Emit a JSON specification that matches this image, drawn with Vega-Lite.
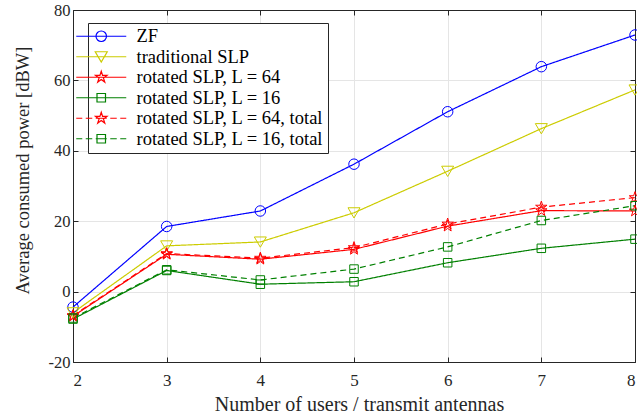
{
  "$schema": "https://vega.github.io/schema/vega-lite/v6.json",
  "width": 562,
  "height": 352,
  "autosize": {"type": "none"},
  "padding": {"left": 73, "top": 10, "right": 2, "bottom": 54},
  "background": "white",
  "config": {"view": {"stroke": null}, "font": "Liberation Serif", "axis": {"labelFont": "Liberation Serif", "titleFont": "Liberation Serif"}},
  "data": {"values": [
    {"x": 2, "series": "ZF", "value": -4.4},
    {"x": 3, "series": "ZF", "value": 18.5},
    {"x": 4, "series": "ZF", "value": 22.9},
    {"x": 5, "series": "ZF", "value": 36.2},
    {"x": 6, "series": "ZF", "value": 51.1},
    {"x": 7, "series": "ZF", "value": 63.9},
    {"x": 8, "series": "ZF", "value": 72.9},
    {"x": 2, "series": "traditional SLP", "value": -6.0},
    {"x": 3, "series": "traditional SLP", "value": 13.0},
    {"x": 4, "series": "traditional SLP", "value": 14.1},
    {"x": 5, "series": "traditional SLP", "value": 22.4},
    {"x": 6, "series": "traditional SLP", "value": 34.2},
    {"x": 7, "series": "traditional SLP", "value": 46.3},
    {"x": 8, "series": "traditional SLP", "value": 57.3},
    {"x": 2, "series": "rotated SLP, L = 64", "value": -7.0},
    {"x": 3, "series": "rotated SLP, L = 64", "value": 10.6},
    {"x": 4, "series": "rotated SLP, L = 64", "value": 9.2},
    {"x": 5, "series": "rotated SLP, L = 64", "value": 12.0},
    {"x": 6, "series": "rotated SLP, L = 64", "value": 18.6},
    {"x": 7, "series": "rotated SLP, L = 64", "value": 23.0},
    {"x": 8, "series": "rotated SLP, L = 64", "value": 22.9},
    {"x": 2, "series": "rotated SLP, L = 16", "value": -7.8},
    {"x": 3, "series": "rotated SLP, L = 16", "value": 6.0},
    {"x": 4, "series": "rotated SLP, L = 16", "value": 2.1},
    {"x": 5, "series": "rotated SLP, L = 16", "value": 2.8},
    {"x": 6, "series": "rotated SLP, L = 16", "value": 8.2},
    {"x": 7, "series": "rotated SLP, L = 16", "value": 12.3},
    {"x": 8, "series": "rotated SLP, L = 16", "value": 14.9},
    {"x": 2, "series": "rotated SLP, L = 64, total", "value": -6.8},
    {"x": 3, "series": "rotated SLP, L = 64, total", "value": 10.8},
    {"x": 4, "series": "rotated SLP, L = 64, total", "value": 9.5},
    {"x": 5, "series": "rotated SLP, L = 64, total", "value": 12.5},
    {"x": 6, "series": "rotated SLP, L = 64, total", "value": 19.2},
    {"x": 7, "series": "rotated SLP, L = 64, total", "value": 24.0},
    {"x": 8, "series": "rotated SLP, L = 64, total", "value": 26.7},
    {"x": 2, "series": "rotated SLP, L = 16, total", "value": -7.5},
    {"x": 3, "series": "rotated SLP, L = 16, total", "value": 6.2},
    {"x": 4, "series": "rotated SLP, L = 16, total", "value": 3.3},
    {"x": 5, "series": "rotated SLP, L = 16, total", "value": 6.4},
    {"x": 6, "series": "rotated SLP, L = 16, total", "value": 12.7},
    {"x": 7, "series": "rotated SLP, L = 16, total", "value": 20.2},
    {"x": 8, "series": "rotated SLP, L = 16, total", "value": 24.4}
  ]},
  "layer": [
    {
      "mark": {"type": "line", "strokeWidth": 1.2},
      "encoding": {
        "x": {"field": "x", "type": "quantitative",
          "scale": {"domain": [2, 8], "nice": false, "zero": false},
          "axis": {"orient": "bottom", "values": [2, 3, 4, 5, 6, 7, 8], "format": "d",
            "grid": true, "gridColor": "#e5e5e5", "gridWidth": 1,
            "domainColor": "#262626", "domainWidth": 1, "tickColor": "#262626", "tickSize": -5, "tickWidth": 1,
            "labelFont": "Liberation Serif", "labelFontSize": 17, "labelColor": "#262626", "labelPadding": 15,
            "title": "Number of users / transmit antennas", "titleFont": "Liberation Serif", "titleFontSize": 20,
            "titleFontWeight": "normal", "titleColor": "#262626", "titleX": 286, "titleY": 48,
            "titleBaseline": "alphabetic", "titleAlign": "center"}},
        "y": {"field": "value", "type": "quantitative",
          "scale": {"domain": [-20, 80], "nice": false, "zero": false},
          "axis": {"orient": "left", "values": [-20, 0, 20, 40, 60, 80], "labelExpr": "datum.value + ''",
            "grid": true, "gridColor": "#e5e5e5", "gridWidth": 1,
            "domainColor": "#262626", "domainWidth": 1, "tickColor": "#262626", "tickSize": -5, "tickWidth": 1,
            "labelFont": "Liberation Serif", "labelFontSize": 16.5, "labelColor": "#262626", "labelPadding": 8,
            "title": "Average consumed power [dBW]", "titleFont": "Liberation Serif", "titleFontSize": 18.5,
            "titleFontWeight": "normal", "titleColor": "#262626", "titleX": -45, "titleY": 160,
            "titleBaseline": "alphabetic", "titleAlign": "center", "titleAngle": 270}},
        "color": {"field": "series", "type": "nominal",
          "scale": {"domain": ["ZF", "traditional SLP", "rotated SLP, L = 64", "rotated SLP, L = 16", "rotated SLP, L = 64, total", "rotated SLP, L = 16, total"],
            "range": ["#0000ff", "#cccc00", "#ff0000", "#008000", "#ff0000", "#008000"]},
          "legend": null},
        "strokeDash": {"field": "series", "type": "nominal",
          "scale": {"domain": ["ZF", "traditional SLP", "rotated SLP, L = 64", "rotated SLP, L = 16", "rotated SLP, L = 64, total", "rotated SLP, L = 16, total"],
            "range": [[1, 0], [1, 0], [1, 0], [1, 0], [6, 4], [6, 4]]},
          "legend": null}
      }
    },
    {
      "mark": {"type": "point", "filled": false, "size": 100, "strokeWidth": 1, "opacity": 1},
      "encoding": {
        "x": {"field": "x", "type": "quantitative",
          "axis": {"orient": "top", "values": [2, 3, 4, 5, 6, 7, 8], "labels": false, "title": null, "grid": false,
            "domainColor": "#262626", "domainWidth": 1, "tickColor": "#262626", "tickSize": -5, "tickWidth": 1}},
        "y": {"field": "value", "type": "quantitative",
          "axis": {"orient": "right", "values": [-20, 0, 20, 40, 60, 80], "labels": false, "title": null, "grid": false,
            "domainColor": "#262626", "domainWidth": 1, "tickColor": "#262626", "tickSize": -5, "tickWidth": 1}},
        "color": {"field": "series", "type": "nominal", "legend": null},
        "shape": {"field": "series", "type": "nominal",
          "scale": {"domain": ["ZF", "traditional SLP", "rotated SLP, L = 64", "rotated SLP, L = 16", "rotated SLP, L = 64, total", "rotated SLP, L = 16, total"],
            "range": [
              "M1.05,0A1.05 1.05 0 1 1 -1.05,0A1.05 1.05 0 1 1 1.05,0Z",
              "M-1.2,-1L1.2,-1L0,1.05Z",
              "M0,-1.2L0.269,-0.371L1.141,-0.371L0.436,0.142L0.705,0.971L0,0.458L-0.705,0.971L-0.436,0.142L-1.141,-0.371L-0.269,-0.371Z",
              "M-0.85,-0.85L0.85,-0.85L0.85,0.85L-0.85,0.85Z",
              "M0,-1.2L0.269,-0.371L1.141,-0.371L0.436,0.142L0.705,0.971L0,0.458L-0.705,0.971L-0.436,0.142L-1.141,-0.371L-0.269,-0.371Z",
              "M-0.85,-0.85L0.85,-0.85L0.85,0.85L-0.85,0.85Z"
            ]},
          "legend": null}
      }
    },
    {
      "transform": [{"filter": "false"}],
      "mark": {"type": "point", "filled": false, "size": 100, "strokeWidth": 1.2, "opacity": 1},
      "encoding": {
        "x": {"field": "x", "type": "quantitative", "axis": null},
        "y": {"field": "value", "type": "quantitative", "axis": null},
        "color": {"field": "series", "type": "nominal",
          "legend": {"orient": "none", "legendX": 15, "legendY": 13, "title": null}},
        "shape": {"field": "series", "type": "nominal",
          "scale": {"domain": ["ZF", "traditional SLP", "rotated SLP, L = 64", "rotated SLP, L = 16", "rotated SLP, L = 64, total", "rotated SLP, L = 16, total"],
            "range": [
              "M-5,0L5,0M1.05,0A1.05 1.05 0 1 1 -1.05,0A1.05 1.05 0 1 1 1.05,0Z",
              "M-5,0L5,0M-1.2,-1L1.2,-1L0,1.05Z",
              "M-5,0L5,0M0,-1.2L0.269,-0.371L1.141,-0.371L0.436,0.142L0.705,0.971L0,0.458L-0.705,0.971L-0.436,0.142L-1.141,-0.371L-0.269,-0.371Z",
              "M-5,0L5,0M-0.85,-0.85L0.85,-0.85L0.85,0.85L-0.85,0.85Z",
              "M-5,0L-3.8,0M-3.1,0L-1.8,0M-1.1,0L1.1,0M1.8,0L3.1,0M3.8,0L5,0M0,-1.2L0.269,-0.371L1.141,-0.371L0.436,0.142L0.705,0.971L0,0.458L-0.705,0.971L-0.436,0.142L-1.141,-0.371L-0.269,-0.371Z",
              "M-5,0L-3.8,0M-3.1,0L-1.8,0M-1.1,0L1.1,0M1.8,0L3.1,0M3.8,0L5,0M-0.85,-0.85L0.85,-0.85L0.85,0.85L-0.85,0.85Z"
            ]},
          "legend": {"orient": "none", "legendX": 15, "legendY": 13, "title": null,
            "strokeColor": "#262626", "fillColor": "white", "padding": 4,
            "symbolSize": 100, "symbolStrokeWidth": 1.2, "symbolFillColor": "transparent", "symbolOpacity": 1,
            "labelFont": "Liberation Serif", "labelFontSize": 18.5, "labelColor": "black",
            "labelOffset": 26, "rowPadding": 1.5, "labelLimit": 400}}
      }
    }
  ],
  "resolve": {
    "scale": {"shape": "independent"},
    "axis": {"x": "independent", "y": "independent"},
    "legend": {"color": "independent", "shape": "independent"}
  }
}
